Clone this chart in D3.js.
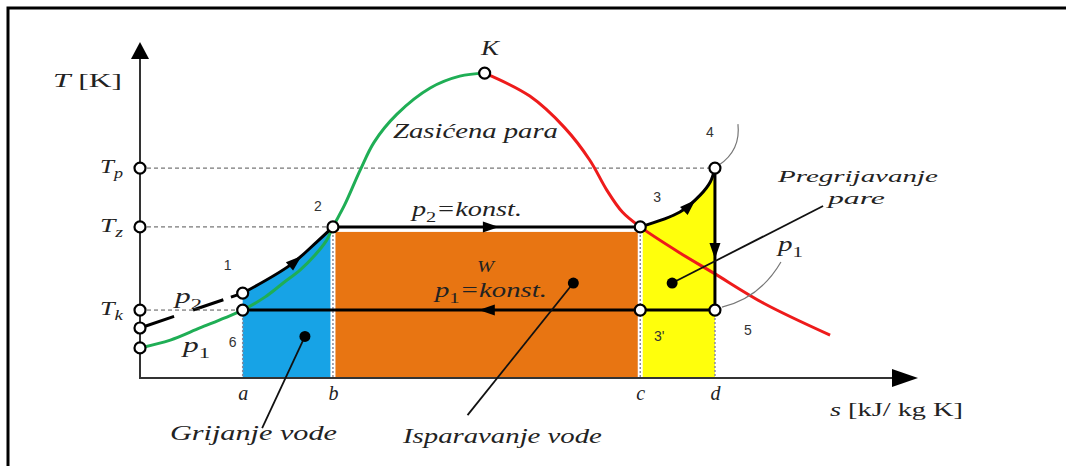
<!DOCTYPE html>
<html>
<head>
<meta charset="utf-8">
<script src="https://cdn.jsdelivr.net/npm/d3@7/dist/d3.min.js"></script>
<style>
  body { margin: 0; background: #fff; }
  svg { display: block; }
</style>
</head>
<body>
<svg id="drawing_region"></svg>
<script>
// T-s diagram values (arbitrary units, 0..10 on both axes)
const sTickNames = ['a', 'b', 'c', 'd'];
const sTickValues = [1.32, 2.48, 6.43, 7.39];
const tTickNames = ['p', 'z', 'k'];          // T_p, T_z, T_k
const tTickValues = [6.21, 4.47, 2.01];
const tAxisMarks = [6.21, 4.47, 2.01, 1.48, 0.89];

// saturation curve: liquid side (green) and vapour side (red)
const satLiquid = [[0, 0.89], [0.39, 1.12], [0.77, 1.48], [1.09, 1.78], [1.32, 2.01], [1.61, 2.40],
    [1.84, 2.81], [2.06, 3.20], [2.25, 3.64], [2.40, 4.08], [2.48, 4.47], [2.63, 5.12],
    [2.83, 6.15], [3.01, 6.98], [3.30, 7.80], [3.73, 8.58], [4.11, 8.93], [4.43, 9.02]];
const satVapor = [[4.43, 9.02], [5.01, 8.34], [5.46, 7.40], [5.78, 6.45], [6.00, 5.56],
    [6.20, 4.91], [6.43, 4.47], [6.94, 3.70], [7.37, 3.11], [8.01, 2.22], [8.87, 1.27]];

// cycle
const pumpLine = [[0, 1.48], [1.32, 2.51]];
const heating = [[1.32, 2.51], [1.93, 3.34], [2.27, 4.02], [2.48, 4.47]];
const evaporation = [[2.48, 4.47], [6.43, 4.47]];
const superheat = [[6.43, 4.47], [6.94, 4.91], [7.20, 5.41], [7.33, 5.80], [7.39, 6.21]];
const expansion = [[7.39, 6.21], [7.39, 2.01]];
const condensation = [[7.39, 2.01], [1.32, 2.01]];

const stateNames = ['1', '2', '3', "3'", '4', '5', '6'];
const stateS = [1.32, 2.48, 6.43, 6.43, 7.39, 7.39, 1.32];
const stateT = [2.51, 4.47, 4.47, 2.01, 6.21, 2.01, 2.01];
const critical = [4.43, 9.02];

const width = 1066, height = 466;
const svg = d3.select('#drawing_region').attr('width', width).attr('height', height);

const xscale = d3.scaleLinear().domain([0, 10]).range([140, 918]);
const yscale = d3.scaleLinear().domain([0, 10]).range([378, 40]);

const line = d3.line().x(d => xscale(d[0])).y(d => yscale(d[1])).curve(d3.curveCatmullRom.alpha(0.5));
const area = d3.area().x(d => xscale(d[0])).y0(yscale(0)).y1(d => yscale(d[1])).curve(d3.curveCatmullRom.alpha(0.5));

// frame (only top and left edges visible)
svg.append('path').attr('d', `M8,${height} L8,8 L${width},8`)
    .attr('fill', 'none').attr('stroke', '#000').attr('stroke-width', 3);

// filled areas
svg.append('path').attr('d', area(heating)).attr('fill', '#17a3e6');
svg.append('rect')
    .attr('x', xscale(sTickValues[1]))
    .attr('y', yscale(tTickValues[1]) + 5)
    .attr('width', xscale(sTickValues[2]) - xscale(sTickValues[1]))
    .attr('height', yscale(0) - yscale(tTickValues[1]) - 5)
    .attr('fill', '#e87512');
svg.append('path').attr('d', area(superheat)).attr('fill', '#ffff0c');

// white separators at b and c, dotted verticals at a, b, c, d
[1, 2].forEach(i => {
    svg.append('line')
        .attr('x1', xscale(sTickValues[i])).attr('x2', xscale(sTickValues[i]))
        .attr('y1', yscale(tTickValues[1]) + 5).attr('y2', yscale(0))
        .attr('stroke', '#fff').attr('stroke-width', 5);
});
const dotTop = [tTickValues[2], tTickValues[1], tTickValues[1], tTickValues[2]];
sTickValues.forEach((s, i) => {
    svg.append('line')
        .attr('x1', xscale(s)).attr('x2', xscale(s))
        .attr('y1', yscale(dotTop[i])).attr('y2', yscale(0))
        .attr('stroke', '#8a8a9a').attr('stroke-width', 1.5)
        .attr('stroke-dasharray', '2,2');
});

// dashed temperature guides
const guideEnd = [sTickValues[3], sTickValues[1], sTickValues[0]];
tTickValues.forEach((t, i) => {
    svg.append('line')
        .attr('x1', xscale(0)).attr('x2', xscale(guideEnd[i]))
        .attr('y1', yscale(t)).attr('y2', yscale(t))
        .attr('stroke', '#555').attr('stroke-width', 1)
        .attr('stroke-dasharray', '4,3');
});

// axes
const xaxis = d3.axisBottom(xscale)
    .tickValues(sTickValues)
    .tickFormat((d, i) => sTickNames[i])
    .tickSize(0).tickPadding(8);
const xg = svg.append('g').attr('transform', `translate(0, ${yscale(0)})`).call(xaxis);
xg.select('.domain').remove();
xg.selectAll('text')
    .attr('font-family', '"Liberation Serif", serif')
    .attr('font-style', 'italic')
    .attr('font-size', 20)
    .attr('fill', '#222');

svg.append('line')
    .attr('x1', xscale(0)).attr('x2', xscale(10) - 20)
    .attr('y1', yscale(0)).attr('y2', yscale(0))
    .attr('stroke', '#333').attr('stroke-width', 2);
svg.append('path')
    .attr('d', `M${xscale(10)},${yscale(0)} L${xscale(10) - 26},${yscale(0) - 9} L${xscale(10) - 26},${yscale(0) + 9} Z`)
    .attr('fill', '#000');
svg.append('line')
    .attr('x1', xscale(0)).attr('x2', xscale(0))
    .attr('y1', yscale(0) + 1).attr('y2', yscale(10) + 16)
    .attr('stroke', '#333').attr('stroke-width', 2);
svg.append('path')
    .attr('d', `M${xscale(0)},${yscale(10) + 2} L${xscale(0) - 9},${yscale(10) + 19} L${xscale(0) + 9},${yscale(10) + 19} Z`)
    .attr('fill', '#000');

// saturation curve
svg.append('path').attr('d', line(satLiquid)).attr('fill', 'none')
    .attr('stroke', '#1fae55').attr('stroke-width', 3);
svg.append('path').attr('d', line(satVapor)).attr('fill', 'none')
    .attr('stroke', '#ee1b1b').attr('stroke-width', 3);

// cycle lines, with an arrow at a fraction of each path
const cycle = [
    { pts: heating, at: 0.62 },
    { pts: evaporation, at: 0.54 },
    { pts: superheat, at: 0.62 },
    { pts: expansion, at: 0.64 },
    { pts: condensation, at: 0.50 }
];
cycle.forEach(c => {
    const p = svg.append('path').attr('d', line(c.pts)).attr('fill', 'none')
        .attr('stroke', '#000').attr('stroke-width', 3);
    const node = p.node();
    const L = node.getTotalLength();
    const tip = node.getPointAtLength(L * c.at);
    const back = node.getPointAtLength(L * c.at - 2);
    const ang = Math.atan2(tip.y - back.y, tip.x - back.x) * 180 / Math.PI;
    svg.append('path')
        .attr('d', 'M0,0 L-16,-5.5 L-16,5.5 Z')
        .attr('transform', `translate(${tip.x},${tip.y}) rotate(${ang})`)
        .attr('fill', '#000');
});
svg.append('path').attr('d', line(pumpLine)).attr('fill', 'none')
    .attr('stroke', '#000').attr('stroke-width', 3)
    .attr('stroke-dasharray', '36,20,32,8,26,20');

// pointer lines with dots
const pointers = [
    [[2.12, 1.23], [1.57, -1.48]],
    [[5.57, 2.81], [4.21, -1.10]],
    [[6.84, 2.81], [8.78, 5.09]]
];
pointers.forEach(pp => {
    svg.append('line')
        .attr('x1', xscale(pp[0][0])).attr('y1', yscale(pp[0][1]))
        .attr('x2', xscale(pp[1][0])).attr('y2', yscale(pp[1][1]))
        .attr('stroke', '#111').attr('stroke-width', 1.8);
    svg.append('circle')
        .attr('cx', xscale(pp[0][0])).attr('cy', yscale(pp[0][1]))
        .attr('r', 5.5).attr('fill', '#000');
});

// thin grey callout arcs near 4 and 5
const p4 = [xscale(stateS[4]), yscale(stateT[4])];
const p5 = [xscale(stateS[5]), yscale(stateT[5])];
svg.append('path')
    .attr('d', `M${p4[0] + 4},${p4[1] - 3} Q${p4[0] + 26},${p4[1] - 18} ${p4[0] + 23},${p4[1] - 44}`)
    .attr('fill', 'none').attr('stroke', '#777').attr('stroke-width', 1.2);
svg.append('path')
    .attr('d', `M${p5[0] + 7},${p5[1] - 3} Q${p5[0] + 45},${p5[1] - 12} ${p5[0] + 66},${p5[1] - 48}`)
    .attr('fill', 'none').attr('stroke', '#777').attr('stroke-width', 1.2);

// open circles
const circles = stateNames.map((n, i) => [stateS[i], stateT[i]])
    .concat(tAxisMarks.map(t => [0, t]))
    .concat([critical]);
svg.selectAll('circle.state').data(circles).enter()
    .append('circle').attr('class', 'state')
    .attr('cx', d => xscale(d[0])).attr('cy', d => yscale(d[1]))
    .attr('r', 5.5).attr('fill', '#fff').attr('stroke', '#000').attr('stroke-width', 2.2);

// state numbers
const numOffset = [[-15, -23], [-15, -16], [17, -25], [19, 31], [-5, -31], [33, 25], [-10, 37]];
stateNames.forEach((n, i) => {
    svg.append('text')
        .attr('x', xscale(stateS[i]) + numOffset[i][0])
        .attr('y', yscale(stateT[i]) + numOffset[i][1])
        .attr('text-anchor', 'middle')
        .attr('font-family', '"Liberation Sans", Arial, sans-serif')
        .attr('font-size', 14)
        .attr('fill', '#333')
        .text(n);
});

// text helper: parts are [text, italic, sub]; stretched to a target width
function label(parts, x0, y0, w, size) {
    const g = svg.append('g');
    const t = g.append('text')
        .attr('font-family', '"Liberation Serif", "DejaVu Serif", serif')
        .attr('font-size', size)
        .attr('fill', '#222');
    let shifted = false;
    parts.forEach(p => {
        const ts = t.append('tspan').text(p[0])
            .attr('font-style', p[1] ? 'italic' : 'normal');
        if (p[2]) {
            ts.attr('font-size', size * 0.72).attr('dy', size * 0.28);
            shifted = true;
        } else if (shifted) {
            ts.attr('dy', -size * 0.28);
            shifted = false;
        }
    });
    const bw = t.node().getComputedTextLength();
    g.attr('transform', `translate(${x0},${y0}) scale(${w / bw},1)`);
}

label([['T', true], [' [K]', false]], 53, 87, 69, 19);
label([['s', true], [' [kJ/ kg K]', false]], 830, 416, 133, 19);
label([['K', true]], 481, 55, 18, 20);
label([['Zasićena para', true]], 393, 138, 165, 20);
label([['p', true], ['2', false, true], ['=konst.', true]], 412, 216, 110, 20);
label([['W', true]], 477, 272, 17, 17);
label([['p', true], ['1', false, true], ['=konst.', true]], 435, 297, 112, 20);
label([['Pregrijavanje', true]], 778, 182, 160, 17);
label([['pare', true]], 828, 204, 57, 17);
label([['p', true], ['1', false, true]], 778, 251, 25, 20);
label([['p', true], ['2', false, true]], 175, 303, 27, 20);
label([['p', true], ['1', false, true]], 183, 352, 27, 20);
label([['Grijanje vode', true]], 170, 440, 167, 20);
label([['Isparavanje vode', true]], 403, 443, 199, 20);

// T tick labels with subscripts
tTickValues.forEach((t, i) => {
    label([['T', true], [tTickNames[i], true, true]], 100, yscale(t) + 5, 23, 19);
});
</script>
</body>
</html>
